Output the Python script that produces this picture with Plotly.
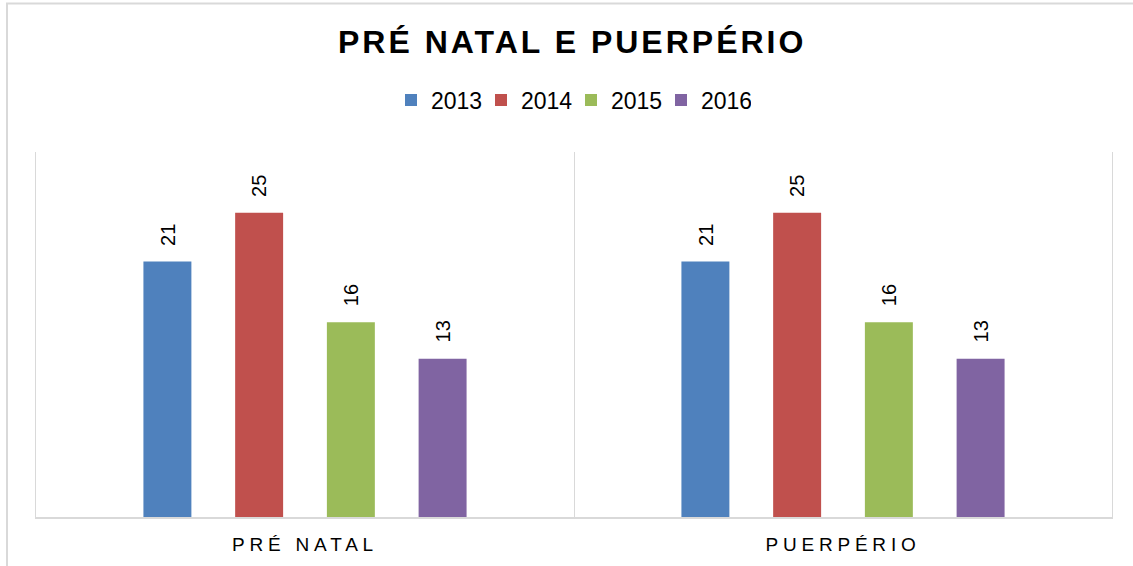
import plotly.graph_objects as go

categories = ["PRÉ NATAL", "PUERPÉRIO"]
years = ["2013", "2014", "2015", "2016"]
values_2013 = [21, 21]
values_2014 = [25, 25]
values_2015 = [16, 16]
values_2016 = [13, 13]
series_values = [values_2013, values_2014, values_2015, values_2016]
colors = ["#4F81BD", "#C0504D", "#9BBB59", "#8064A2"]
title_text = "PRÉ NATAL E PUERPÉRIO"

FONT = "Liberation Sans, Arial, sans-serif"
BARGAP = 0.318
BARGROUPGAP = 0.477
W, H = 1133, 566
ML, MR, MT, MB = 36, 21, 152, 49
PW, PH = W - ML - MR, H - MT - MB

fig = go.Figure()
for name, vals, col in zip(years, series_values, colors):
    fig.add_trace(go.Bar(
        name=name, x=categories, y=vals, marker=dict(color=col, line=dict(width=0)),
        hoverinfo="x+y+name",
    ))

# rotated data labels above bars
n = len(years)
slot = (1 - BARGAP) / n
annotations = []
for k, vals in enumerate(series_values):
    off = (k - (n - 1) / 2) * slot
    for i, v in enumerate(vals):
        annotations.append(dict(
            x=i + off, y=v, xref="x", yref="y", text=str(v), showarrow=False,
            textangle=-90, yanchor="bottom", xanchor="center", yshift=14,
            font=dict(family=FONT, size=20, color="#000000"),
        ))

ticktext = ['<span style="letter-spacing:4.8px">%s</span>' % c for c in categories]

fig.update_layout(
    width=W, height=H,
    margin=dict(l=ML, r=MR, t=MT, b=MB, pad=0),
    paper_bgcolor="white", plot_bgcolor="white",
    font=dict(family=FONT, color="#000000"),
    title=dict(
        text='<b><span style="letter-spacing:3px">%s</span></b>' % title_text,
        x=0.505, xanchor="center", y=1 - 42 / H, yanchor="middle", yref="container",
        font=dict(family=FONT, size=32, color="#000000"),
    ),
    barmode="group", bargap=BARGAP, bargroupgap=BARGROUPGAP,
    showlegend=True,
    legend=dict(
        orientation="h", x=0.5 - 3 / PW, xanchor="center", y=(517 - 100) / PH, yanchor="middle",
        font=dict(family=FONT, size=23, color="#000000"),
        entrywidth=45, entrywidthmode="pixels",
        itemclick=False, itemdoubleclick=False,
    ),
    xaxis=dict(
        type="category", range=[-0.5, 1.5], tickson="boundaries",
        showgrid=True, gridcolor="#D9D9D9", gridwidth=1,
        showline=True, linecolor="#D9D9D9", linewidth=1.5,
        ticks="", tickvals=categories, ticktext=ticktext,
        tickfont=dict(family=FONT, size=19, color="#000000"),
        ticklabelstandoff=9,
        fixedrange=True,
    ),
    yaxis=dict(
        range=[0, 30], showgrid=False, zeroline=False, fixedrange=True,
        showticklabels=False, ticks="", showline=True, mirror=True,
        linecolor="#D9D9D9", linewidth=1,
    ),
    annotations=annotations,
    shapes=[dict(
        type="rect", xref="paper", yref="paper",
        x0=(7 - ML) / PW, x1=(1140 - ML) / PW,
        y0=-(580 - 517) / PH, y1=1 + (MT - 3.5) / PH,
        line=dict(color="#D9D9D9", width=2), fillcolor="rgba(0,0,0,0)", layer="below",
    )],
)

fig.write_html(
    "out.html",
    config={"displayModeBar": False},
    post_script="document.body.style.margin='0';document.body.style.overflow='hidden';",
)
